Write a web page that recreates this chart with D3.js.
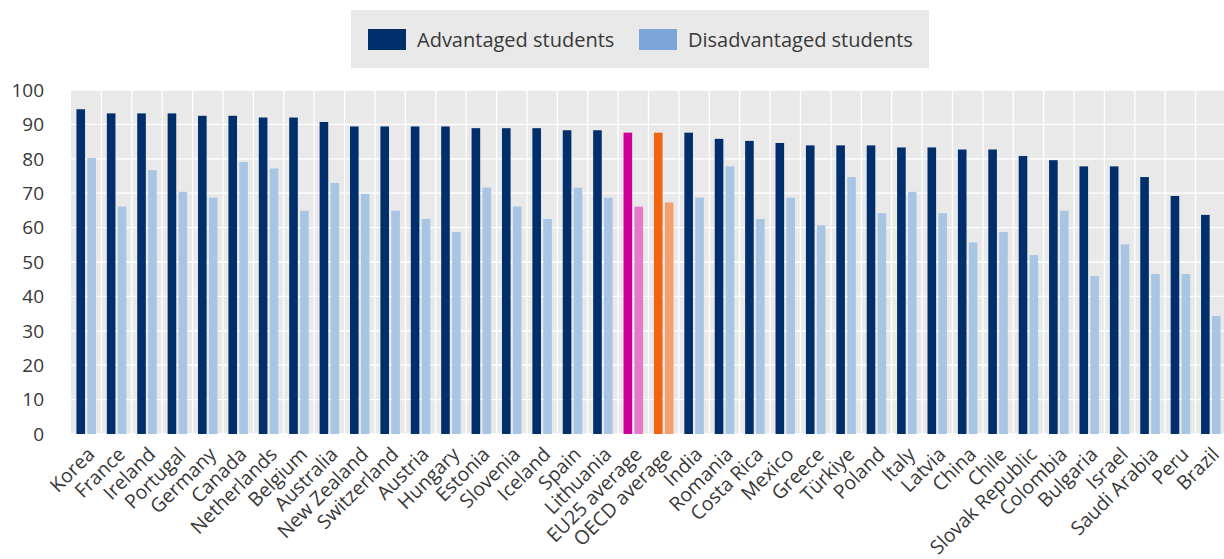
<!DOCTYPE html>
<meta charset="utf-8">
<script src="https://d3js.org/d3.v7.min.js"></script>
<style>
body { margin: 0; background: #fff; }
text { font-family: "Open Sans", "Noto Sans", sans-serif; fill: #383838; }
</style>
<svg id="chart" width="1224" height="559"></svg>
<script>
// countries in chart order
var countries = ["Korea", "France", "Ireland", "Portugal", "Germany", "Canada", "Netherlands", "Belgium",
  "Australia", "New Zealand", "Switzerland", "Austria", "Hungary", "Estonia", "Slovenia", "Iceland",
  "Spain", "Lithuania", "EU25 average", "OECD average", "India", "Romania", "Costa Rica", "Mexico",
  "Greece", "Türkiye", "Poland", "Italy", "Latvia", "China", "Chile", "Slovak Republic", "Colombia",
  "Bulgaria", "Israel", "Saudi Arabia", "Peru", "Brazil"];

var advantaged = [94.4, 93.2, 93.2, 93.2, 92.5, 92.5, 92.0, 92.0, 90.7, 89.4, 89.4, 89.4, 89.4, 88.9,
  88.9, 88.9, 88.3, 88.3, 87.6, 87.6, 87.6, 85.8, 85.2, 84.6, 83.9, 83.9, 83.9, 83.3, 83.3, 82.7, 82.7,
  80.8, 79.6, 77.8, 77.8, 74.7, 69.2, 63.7];

var disadvantaged = [80.2, 66.1, 76.7, 70.4, 68.7, 79.1, 77.2, 64.9, 73.0, 69.8, 64.9, 62.5, 58.7, 71.6,
  66.1, 62.5, 71.6, 68.7, 66.1, 67.3, 68.7, 77.8, 62.5, 68.7, 60.7, 74.7, 64.2, 70.4, 64.2, 55.7, 58.7,
  52.0, 64.9, 45.9, 55.1, 46.5, 46.5, 34.3];

var series = ["Advantaged students", "Disadvantaged students"];
var yTicks = [0, 10, 20, 30, 40, 50, 60, 70, 80, 90, 100];

var colors = {
  normal: ["#002F6C", "#A9C5E4"],
  "EU25 average": ["#CC0099", "#E07CC9"],
  "OECD average": ["#F26411", "#F3A06E"]
};
var legendColors = ["#002F6C", "#7CA5D9"];

var margin = {top: 90, left: 71},
    plotW = 1155,
    plotH = 344;

var svg = d3.select("#chart");
var g = svg.append("g").attr("transform", "translate(" + margin.left + "," + margin.top + ")");

var x0 = d3.scaleBand().domain(countries).range([0, plotW]).padding(0);
var x1 = d3.scaleBand().domain(series).range([0, x0.bandwidth()]).paddingInner(0.21).paddingOuter(0.5);
var y = d3.scaleLinear().domain([0, 100]).range([plotH, 0]);

// plot background
g.append("rect")
  .attr("width", plotW).attr("height", plotH)
  .attr("fill", "#E9E9E9");

// horizontal grid
g.selectAll(".hgrid")
  .data(yTicks)
  .enter().append("line")
    .attr("x1", 0).attr("x2", plotW)
    .attr("y1", function(d){ return y(d); })
    .attr("y2", function(d){ return y(d); })
    .attr("stroke", "#fff").attr("stroke-width", 1.3);

// vertical grid between categories
g.selectAll(".vgrid")
  .data(countries.slice(1))
  .enter().append("line")
    .attr("x1", function(d){ return x0(d); })
    .attr("x2", function(d){ return x0(d); })
    .attr("y1", 0).attr("y2", plotH)
    .attr("stroke", "#fff").attr("stroke-width", 1.3);

// bars
var rows = countries.map(function(c, i){ return {name: c, vals: [advantaged[i], disadvantaged[i]]}; });

var groups = g.selectAll(".grp")
  .data(rows)
  .enter().append("g")
    .attr("transform", function(d){ return "translate(" + x0(d.name) + ",0)"; });

groups.selectAll("rect")
  .data(function(d){ return d.vals.map(function(v, j){ return {name: d.name, key: series[j], j: j, v: v}; }); })
  .enter().append("rect")
    .attr("x", function(d){ return x1(d.key); })
    .attr("width", x1.bandwidth())
    .attr("y", function(d){ return y(d.v); })
    .attr("height", function(d){ return plotH - y(d.v); })
    .attr("fill", function(d){ return (colors[d.name] || colors.normal)[d.j]; });

// y axis labels
svg.append("g")
  .selectAll("text")
  .data(yTicks)
  .enter().append("text")
    .attr("x", 44)
    .attr("y", function(d){ return margin.top + y(d); })
    .attr("dy", "0.36em")
    .attr("text-anchor", "end")
    .style("font-size", "19px")
    .text(function(d){ return d; });

// x labels, rotated
svg.append("g")
  .selectAll("text")
  .data(countries)
  .enter().append("text")
    .attr("transform", function(d){
      var cx = margin.left + x0(d) + x0.bandwidth() / 2;
      return "translate(" + cx + "," + (margin.top + plotH + 12) + ") rotate(-45)";
    })
    .attr("text-anchor", "end")
    .attr("dy", "0.7em")
    .style("font-size", "19.5px")
    .text(function(d){ return d; });

// legend
var legend = svg.append("g");
legend.append("rect")
  .attr("x", 351).attr("y", 10).attr("width", 578).attr("height", 58)
  .attr("fill", "#E9E9E9");

var legX = [368, 639];
var items = legend.selectAll(".item")
  .data(series)
  .enter().append("g")
    .attr("transform", function(d, i){ return "translate(" + legX[i] + ",29)"; });
items.append("rect")
  .attr("width", 38).attr("height", 21)
  .attr("fill", function(d, i){ return legendColors[i]; });
items.append("text")
  .attr("x", 49).attr("y", 11)
  .attr("dy", "0.36em")
  .style("font-size", "20px")
  .text(function(d){ return d; });
</script>
